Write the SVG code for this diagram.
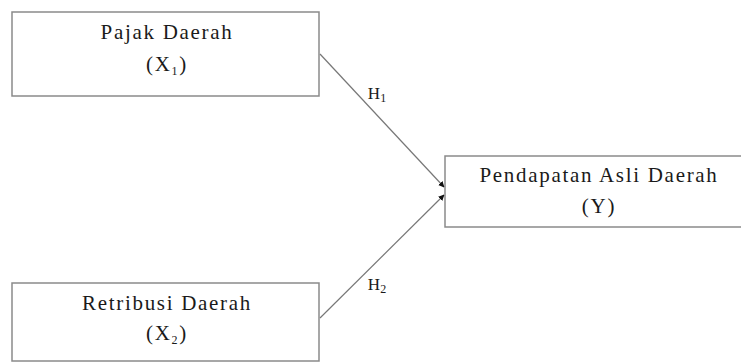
<svg xmlns="http://www.w3.org/2000/svg" width="741" height="363" viewBox="0 0 741 363">
<style>
.box{fill:#fff;stroke:#8a8a8a;stroke-width:1.5}
.t{font-family:"Liberation Serif",serif;font-size:21px;letter-spacing:1.7px;fill:#1a1a1a;text-anchor:middle}
.s{font-size:12px}
.h{font-size:17px;letter-spacing:0}
.c{stroke:#777;stroke-width:1.2;fill:none;marker-end:url(#ah)}
</style>
<defs>
<marker id="ah" viewBox="0 0 10 10" refX="9" refY="5" markerWidth="6" markerHeight="6" orient="auto" markerUnits="userSpaceOnUse">
<path d="M0,0 L10,5 L0,10 z" fill="#111"/>
</marker>
</defs>
<rect width="741" height="363" fill="#fff"/>
<g id="x1">
<rect class="box" x="12" y="12" width="307" height="84"/>
<text class="t" x="167" y="39">Pajak Daerah</text>
<text class="t" x="167" y="71">(X<tspan class="s" dy="4">1</tspan><tspan dy="-4">)</tspan></text>
</g>
<g id="x2">
<rect class="box" x="12" y="283" width="307" height="78"/>
<text class="t" x="167" y="310">Retribusi Daerah</text>
<text class="t" x="167" y="340">(X<tspan class="s" dy="4">2</tspan><tspan dy="-4">)</tspan></text>
</g>
<g id="y">
<rect class="box" x="445" y="156" width="300" height="71"/>
<text class="t" x="599" y="182">Pendapatan Asli Daerah</text>
<text class="t" x="599" y="213">(Y)</text>
</g>
<g id="connectors">
<line class="c" x1="320" y1="54" x2="444" y2="187"/>
<line class="c" x1="320" y1="318" x2="444" y2="195"/>
<text class="t h" x="377" y="99">H<tspan class="s" dy="3">1</tspan></text>
<text class="t h" x="377" y="290">H<tspan class="s" dy="3">2</tspan></text>
</g>
</svg>
